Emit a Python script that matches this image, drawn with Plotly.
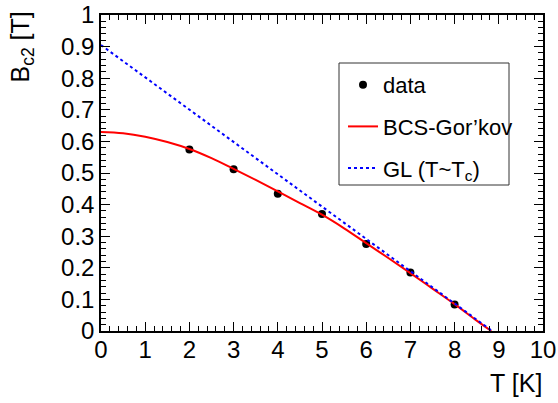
import plotly.graph_objects as go

# data points
T_data = [2, 3, 4, 5, 6, 7, 8]
B_data = [0.574, 0.512, 0.434, 0.370, 0.275, 0.185, 0.084]

# BCS-Gor'kov curve
T_bcs = [0, 0.5, 1, 1.5, 2, 2.5, 3, 3.5, 4, 4.5, 5, 5.5, 6, 6.5, 7, 7.5, 8, 8.5, 8.83]
B_bcs = [0.630, 0.626, 0.615, 0.598, 0.576, 0.547, 0.513, 0.478, 0.442, 0.405,
         0.368, 0.325, 0.278, 0.231, 0.183, 0.134, 0.085, 0.033, 0.0]

# GL (T~Tc) line
T_gl = [0, 8.85]
B_gl = [0.905, 0.0]

x_ticks = list(range(0, 11))
y_ticks = [round(0.1 * i, 1) for i in range(0, 11)]
y_ticklabels = ["0"] + [f"{v:g}" for v in y_ticks[1:]]

FONT = "Liberation Sans, Arial, sans-serif"

fig = go.Figure()
fig.add_trace(go.Scatter(x=T_data, y=B_data, mode="markers", name="data",
                         marker=dict(color="black", size=8), legendgroup="a"))
fig.add_trace(go.Scatter(x=T_bcs, y=B_bcs, mode="lines", name="BCS-Gor’kov",
                         line=dict(color="red", width=2, shape="spline"), legendgroup="b"))
fig.add_trace(go.Scatter(x=T_gl, y=B_gl, mode="lines", name="GL (T~T<sub>c</sub>)",
                         line=dict(color="blue", width=2, dash="3px,3px"), legendgroup="c"))

axis_common = dict(
    ticks="inside", mirror="allticks", showline=True, linecolor="black", linewidth=1.5,
    tickcolor="black", tickwidth=1, showgrid=False, zeroline=False, automargin=False,
    ticklabeloverflow="allow",
    tickfont=dict(family=FONT, size=24, color="black"),
)

fig.update_xaxes(range=[0, 10], tickvals=x_ticks, ticklen=9, ticklabelstandoff=-4,
                 minor=dict(dtick=0.2, ticklen=5, tickcolor="black", ticks="inside"),
                 **axis_common)
fig.update_yaxes(range=[0, 1], tickvals=y_ticks, ticktext=y_ticklabels, ticklen=9,
                 minor=dict(dtick=0.02, ticklen=5, tickcolor="black", ticks="inside"),
                 **axis_common)

W, H = 558, 403
L, R, Tm, B = 101, 15, 15, 72
pw, ph = W - L - R, H - Tm - B

def px(xp):
    return (xp - L) / pw

def py(yp):
    return (H - B - yp) / ph

# legend box
fig.add_shape(type="rect", xref="paper", yref="paper",
              x0=px(339), x1=px(509), y0=py(185), y1=py(63),
              line=dict(color="#333333", width=1), fillcolor="white", layer="above")

fig.update_layout(
    width=W, height=H, margin=dict(l=L, r=R, t=Tm, b=B),
    paper_bgcolor="white", plot_bgcolor="white",
    font=dict(family=FONT, color="black"),
    showlegend=True,
    legend=dict(x=px(343), y=py(64), xanchor="left", yanchor="top",
                bgcolor="rgba(0,0,0,0)", borderwidth=0,
                font=dict(family=FONT, size=22, color="black"),
                tracegroupgap=10, itemwidth=30),
    annotations=[
        dict(text="B<sub>c2</sub> [T]", xref="paper", yref="paper",
             x=px(22), y=py(10), xanchor="center", yanchor="top", textangle=-90,
             showarrow=False, font=dict(family=FONT, size=25, color="black")),
        dict(text="T [K]", xref="paper", yref="paper",
             x=px(544), y=py(383), xanchor="right", yanchor="middle",
             showarrow=False, font=dict(family=FONT, size=25, color="black")),
    ],
)

fig.write_html("out.html")
